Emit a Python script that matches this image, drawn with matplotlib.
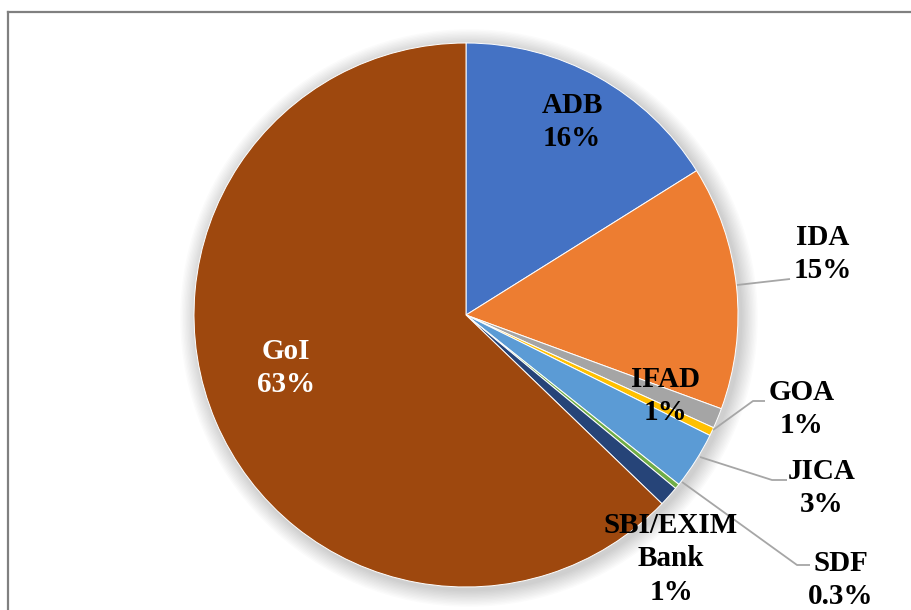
import matplotlib
matplotlib.use("Agg")
import matplotlib.pyplot as plt
from matplotlib.patches import Circle
from matplotlib.lines import Line2D
import numpy as np

# ---- data ----
categories = ["ADB", "IDA", "GOA", "IFAD", "JICA", "SDF", "SBI/EXIM\nBank", "GoI"]
shares = [16.1, 14.5, 1.2, 0.5, 3.4, 0.3, 1.2, 62.8]
pct_labels = ["16%", "15%", "1%", "1%", "3%", "0.3%", "1%", "63%"]
colors = ["#4472C4", "#ED7D31", "#A5A5A5", "#FFC000", "#5B9BD5", "#70AD47", "#264478", "#9E480E"]
text_colors = ["black", "black", "black", "black", "black", "black", "black", "white"]

# label positions (pixels from top-left)
label_pos = [(572, 122), (823, 254), (802, 409), (666, 396), (822, 488), (841, 580), (671, 559), (286, 368)]
# leader lines (pixels from top-left), None where no leader
leaders = [None,
           [(737, 285), (790, 279)],
           [(713, 430), (753, 401), (765, 401)],
           None,
           [(700, 457), (772, 480), (787, 480)],
           [(682, 482), (797, 565), (810, 565)],
           None,
           None]

W, H = 911, 610
cx, cy, R = 466, 315, 272

fig = plt.figure(figsize=(W / 100, H / 100), dpi=100)
ax = fig.add_axes([0, 0, 1, 1])

# soft shadow
for k in range(12, 0, -1):
    ax.add_patch(Circle((cx + 3, H - cy - 3), R + k * 1.4, color="black",
                        alpha=0.014, lw=0, zorder=0))

ax.pie(shares, colors=colors, startangle=90, counterclock=False,
       center=(cx, H - cy), radius=R,
       wedgeprops=dict(edgecolor="white", linewidth=0.7, zorder=1))

ax.set_xlim(0, W)
ax.set_ylim(0, H)
ax.set_aspect("equal")
ax.axis("off")

for pts in leaders:
    if pts is None:
        continue
    xs = [p[0] for p in pts]
    ys = [H - p[1] for p in pts]
    ax.plot(xs, ys, color="#A6A6A6", lw=1.3, zorder=2, solid_capstyle="butt")

for cat, pct, (x, y), tc in zip(categories, pct_labels, label_pos, text_colors):
    ax.text(x, H - y, f"{cat}\n{pct}", ha="center", va="center",
            fontsize=21, fontweight="bold", family="Liberation Serif",
            color=tc, linespacing=1.33, zorder=5)

# chart border (cropped)
fig.add_artist(Line2D([8 / W, 1.0], [1 - 12 / H, 1 - 12 / H], transform=fig.transFigure,
                      color="#808080", lw=1.6))
fig.add_artist(Line2D([8 / W, 8 / W], [1 - 12 / H, 0.0], transform=fig.transFigure,
                      color="#808080", lw=1.6))

fig.savefig("out.png", dpi=100)
